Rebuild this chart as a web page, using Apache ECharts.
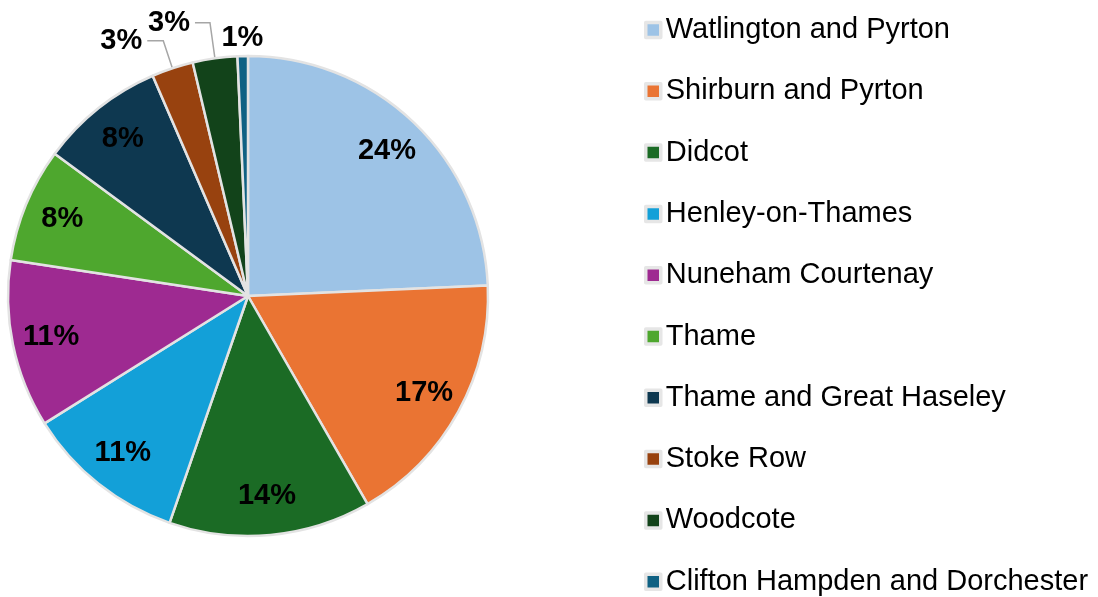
<!DOCTYPE html>
<html>
<head>
<meta charset="utf-8">
<script src="https://cdn.jsdelivr.net/npm/echarts@6/dist/echarts.min.js"></script>
<style>
  html, body { margin: 0; padding: 0; background: #fff; }
  #chart { width: 1098px; height: 597px; }
</style>
</head>
<body>
<div id="chart"></div>
<script>
// areas and their share (percent)
var areas = ['Watlington and Pyrton', 'Shirburn and Pyrton', 'Didcot', 'Henley-on-Thames',
    'Nuneham Courtenay', 'Thame', 'Thame and Great Haseley', 'Stoke Row', 'Woodcote',
    'Clifton Hampden and Dorchester'];
var shares = [24.3, 17.4, 13.6, 10.8, 11.3, 7.7, 8.4, 2.8, 3.0, 0.7];
var colors = ['#9DC3E6', '#EA7433', '#1B6B25', '#13A0D8', '#9E2A91', '#4EA72E', '#0E3850',
    '#98420F', '#12431A', '#0F6183'];

// leader line sizes for the small slices (labels drawn outside)
var outsideLines = {
    'Stoke Row': { length: 29, length2: 16, show: true },
    'Woodcote': { length: 36, length2: 15, show: true },
    'Clifton Hampden and Dorchester': { length: 18, length2: -26, show: false }
};

var labelFont = { fontFamily: 'Liberation Sans, Arial', fontSize: 29, fontWeight: 'bold', color: '#000' };

function pct(p) {
    return Math.round(p.percent) + '%';
}

// main pie: slices + outside labels for the small ones
var mainData = [];
// overlay ring: only used to put the big labels further out
var ringData = [];
for (var i = 0; i < areas.length; i++) {
    var line = outsideLines[areas[i]];
    mainData.push({
        name: areas[i],
        value: shares[i],
        itemStyle: { color: colors[i] },
        label: { show: !!line },
        labelLine: line ? line : { show: false }
    });
    ringData.push({
        name: areas[i],
        value: shares[i],
        label: { show: !line }
    });
}

var chart = echarts.init(document.getElementById('chart'));
var option = {
    animation: false,
    legend: {
        orient: 'vertical',
        left: 644,
        top: 15.5,
        height: 597,
        padding: 0,
        itemWidth: 15,
        itemHeight: 15,
        itemGap: 32.3,
        itemTextGap: 7,
        icon: 'rect',
        selectedMode: false,
        itemStyle: { borderColor: '#E6E6E6', borderWidth: 3.5 },
        data: areas,
        textStyle: { fontFamily: 'Liberation Sans, Arial', fontSize: 29, lineHeight: 29, color: '#000' }
    },
    series: [
        {
            type: 'pie',
            center: [248, 296],
            radius: [0, 240],
            startAngle: 90,
            clockwise: true,
            avoidLabelOverlap: false,
            itemStyle: { borderColor: '#E3E3E3', borderWidth: 2.5 },
            label: Object.assign({ position: 'outside', formatter: pct }, labelFont),
            labelLine: { lineStyle: { color: '#A6A6A6', width: 1.5 } },
            emphasis: { disabled: true },
            data: mainData
        },
        {
            type: 'pie',
            center: [248, 296],
            radius: [156, 240],
            startAngle: 90,
            clockwise: true,
            silent: true,
            itemStyle: { color: 'rgba(0,0,0,0)', borderWidth: 0 },
            label: Object.assign({ position: 'inside', formatter: pct }, labelFont),
            labelLine: { show: false },
            emphasis: { disabled: true },
            data: ringData
        }
    ]
};
chart.setOption(option);
</script>
</body>
</html>
